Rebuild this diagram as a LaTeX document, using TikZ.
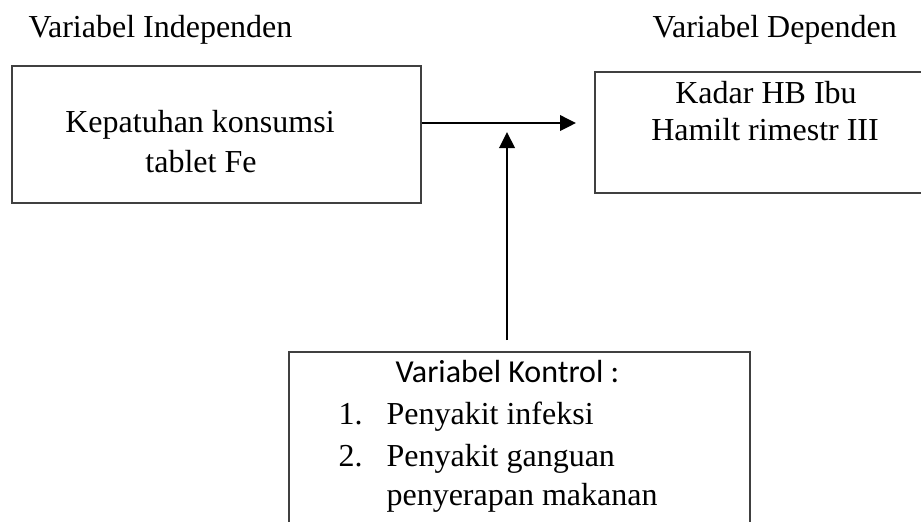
\documentclass[tikz,border=0pt]{standalone}
\usepackage{fontspec}
\setmainfont{Liberation Serif}
\newfontfamily\calfont{Carlito}
\usetikzlibrary{arrows.meta}
\tikzset{
  box/.style={draw=black!75, line width=0.55pt, rectangle, inner sep=0pt},
  txt/.style={inner sep=0pt, font=\fontsize{12}{15}\selectfont},
  conn/.style={line width=0.8pt, -{Triangle[length=6pt,width=5.8pt]}}
}
\begin{document}
\begin{tikzpicture}[x=0.375pt, y=-0.375pt]
\useasboundingbox (0,0) rectangle (921,521);
\clip (0,0) rectangle (921,521);
\fill[white] (0,0) rectangle (921,521);
% boxes
\node[box, minimum width=409*0.375pt, minimum height=137*0.375pt] (indep) at (216.5,134.5) {};
\node[box, minimum width=335*0.375pt, minimum height=121*0.375pt] (dep) at (762.5,132.5) {};
\node[box, minimum width=461*0.375pt, minimum height=180*0.375pt] (ctrl) at (519.5,442) {};
% headings
\node[txt, anchor=base west] (hindep) at (28,37) {Variabel Independen};
\node[txt, anchor=base west] (hdep) at (652,37) {Variabel Dependen};
% box texts
\node[txt, anchor=base] (t1) at (200,132) {Kepatuhan konsumsi};
\node[txt, anchor=base] (t2) at (201,172) {tablet Fe};
\node[txt, anchor=base] (t3) at (766,103) {Kadar HB Ibu};
\node[txt, anchor=base] (t4) at (765,140) {Hamilt rimestr III};
\node[txt, anchor=base west, font=\calfont\fontsize{12}{15}\selectfont] (ck) at (395,382) {Variabel Kontrol :};
\node[txt, anchor=base west] (n1) at (338,424) {1.};
\node[txt, anchor=base west] (i1) at (386,424) {Penyakit infeksi};
\node[txt, anchor=base west] (n2) at (338,466) {2.};
\node[txt, anchor=base west] (i2) at (386,466) {Penyakit ganguan};
\node[txt, anchor=base west] (i3) at (386,505) {penyerapan makanan};
% connectors
\coordinate (hEnd) at (576,123);
\coordinate (vStart) at (507,340);
\coordinate (vEnd) at (507,132);
\draw[conn] (indep.east |- hEnd) -- (hEnd);
\draw[conn] (vStart) -- (vEnd);
\end{tikzpicture}
\end{document}
